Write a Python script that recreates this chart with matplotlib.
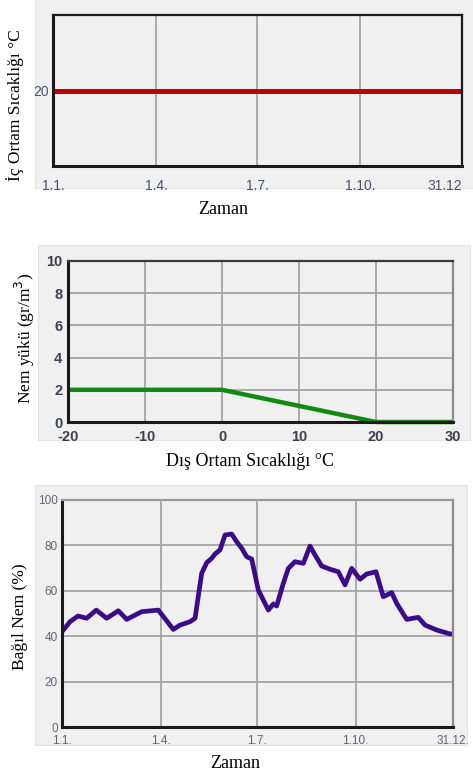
#!/usr/bin/env python3
import matplotlib
matplotlib.use("Agg")
import matplotlib.pyplot as plt
from matplotlib.patches import Rectangle

# --- data -------------------------------------------------------------
time_ticks = [0, 92, 182, 274, 365]
time_labels_top = ['1.1.', '1.4.', '1.7.', '1.10.', '31.12']
time_labels_bottom = ['1.1.', '1.4.', '1.7.', '1.10.', '31.12.']

indoor_days = [0, 365]
indoor_temp = [20, 20]

outdoor_temp = [-20, 0, 20, 30]
moisture_load = [2, 2, 0, 0]

rh_days = [0, 7.5, 15, 23, 32, 41.7, 52.6, 60.4, 74.4, 89.9, 103.9, 110.2,
           119.5, 124.2, 130.4, 135.1, 139.7, 142.8, 147.5, 152.2, 158.4,
           163.1, 167.8, 172.4, 177.1, 183.2, 192.6, 197.3, 200.4, 206.6,
           211.3, 217.5, 225.3, 231.5, 236.2, 242.4, 250.2, 257.9, 264.2,
           270.4, 278.2, 284.4, 293.1, 299.9, 307.8, 312.4, 321.8, 332.6,
           338.9, 349.8, 362.2, 365]
rh_values = [42, 46.4, 48.9, 47.9, 51.5, 47.9, 51.2, 47.4, 50.8, 51.5, 43.0,
             44.9, 46.4, 47.9, 67.7, 72.4, 74.3, 76.2, 78, 84.6, 85, 81.6,
             78.7, 75, 74, 60.4, 51.5, 54.2, 53.3, 63.3, 69.9, 72.8, 72.1,
             79.7, 75.8, 70.9, 69.5, 68.4, 62.6, 69.9, 65.1, 67.4, 68.4, 57.4,
             59.2, 54.5, 47.4, 48.3, 44.9, 42.7, 41.0, 41]

W, H = 473, 778
BG = '#f0f0f0'
GRID = '#a4a4a4'
SERIF = 'Liberation Serif'

plt.rcParams['font.family'] = 'Liberation Sans'
plt.rcParams['axes.unicode_minus'] = False


def box(left, top, right, bottom):
    # pixel box -> figure fraction [l, b, w, h]
    return [left / W, 1 - bottom / H, (right - left) / W, (bottom - top) / H]


def panel_bg(fig, left, top, right, bottom):
    fig.patches.append(Rectangle((left / W, 1 - bottom / H),
                                 (right - left) / W, (bottom - top) / H,
                                 transform=fig.transFigure, facecolor=BG,
                                 edgecolor='#e4e4e4', lw=0.8, zorder=-5))


def style_axes(ax, top_col, right_col):
    ax.set_facecolor(BG)
    ax.grid(True, color=GRID, lw=1.3)
    ax.set_axisbelow(True)
    for s in ['left', 'bottom']:
        ax.spines[s].set_color('#1a1a1a')
        ax.spines[s].set_linewidth(2.2)
    ax.spines['top'].set_color(top_col)
    ax.spines['right'].set_color(right_col)
    ax.spines['top'].set_linewidth(1.6)
    ax.spines['right'].set_linewidth(1.6)
    ax.tick_params(length=0)


fig = plt.figure(figsize=(W / 100, H / 100), dpi=100)
fig.patch.set_facecolor('white')

# --- top: indoor temperature ---------------------------------------------
panel_bg(fig, 35, -2, 475, 188)
ax1 = fig.add_axes(box(53, 15, 462, 166))
style_axes(ax1, '#1a1a1a', '#1a1a1a')
ax1.plot(indoor_days, indoor_temp, color='#c00000', lw=3.6, solid_capstyle='butt')
ax1.set_xlim(0, 365)
ax1.set_ylim(10, 30)
ax1.set_yticks([20])
ax1.grid(False, axis='y')
ax1.set_xticks(time_ticks)
ax1.set_xticklabels(time_labels_top)
ax1.tick_params(axis='x', pad=9, labelsize=10, labelcolor='#4a5070')
ax1.tick_params(axis='y', pad=3, labelsize=10, labelcolor='#4a5070')
ax1.get_xticklabels()[-1].set_horizontalalignment('right')
ax1.get_xticklabels()[-1].set_x(372)
fig.text(223 / W, 1 - 210 / H, 'Zaman', family=SERIF, fontsize=13,
         ha='center', va='center')
fig.text(15 / W, 1 - 105 / H, 'İç Ortam Sıcaklığı °C', family=SERIF,
         fontsize=12.5, rotation=90, ha='center', va='center')

# --- middle: moisture load ----------------------------------------------
panel_bg(fig, 38, 245, 470, 440)
ax2 = fig.add_axes(box(68, 261, 453, 422))
style_axes(ax2, '#3a3a3a', '#8a8a8a')
ax2.plot(outdoor_temp, moisture_load, color='#118a11', lw=3.2,
         solid_capstyle='butt', clip_on=False)
ax2.set_xlim(-20, 30)
ax2.set_ylim(0, 10)
ax2.set_xticks(range(-20, 31, 10))
ax2.set_yticks(range(0, 11, 2))
ax2.tick_params(axis='x', pad=6, labelsize=10.5, labelcolor='#3c4050')
ax2.tick_params(axis='y', pad=4, labelsize=10.5, labelcolor='#3c4050')
for lab in ax2.get_xticklabels() + ax2.get_yticklabels():
    lab.set_fontweight('bold')
fig.text(250 / W, 1 - 461 / H, 'Dış Ortam Sıcaklığı °C', family=SERIF,
         fontsize=13, ha='center', va='center')
fig.text(25 / W, 1 - 338 / H, 'Nem yükü (gr/m$^3$)', family=SERIF,
         fontsize=12.5, rotation=90, ha='center', va='center')

# --- bottom: relative humidity ------------------------------------------
panel_bg(fig, 35, 485, 467, 745)
ax3 = fig.add_axes(box(62, 500, 453, 727))
style_axes(ax3, '#9a9a9a', '#8a8a8a')
ax3.plot(rh_days, rh_values, color='#3a0c8a', lw=3.4, solid_joinstyle='round')
ax3.set_xlim(0, 365)
ax3.set_ylim(0, 100)
ax3.set_xticks(time_ticks)
ax3.set_xticklabels(time_labels_bottom)
ax3.set_yticks(range(0, 101, 20))
ax3.tick_params(axis='x', pad=6, labelsize=8.5, labelcolor='#606478')
ax3.tick_params(axis='y', pad=3, labelsize=8.5, labelcolor='#606478')
fig.text(235 / W, 1 - 763 / H, 'Zaman', family=SERIF, fontsize=13,
         ha='center', va='center')
fig.text(20 / W, 1 - 617 / H, 'Bağıl Nem (%)', family=SERIF,
         fontsize=12.5, rotation=90, ha='center', va='center')

fig.savefig('out.png', dpi=100)
